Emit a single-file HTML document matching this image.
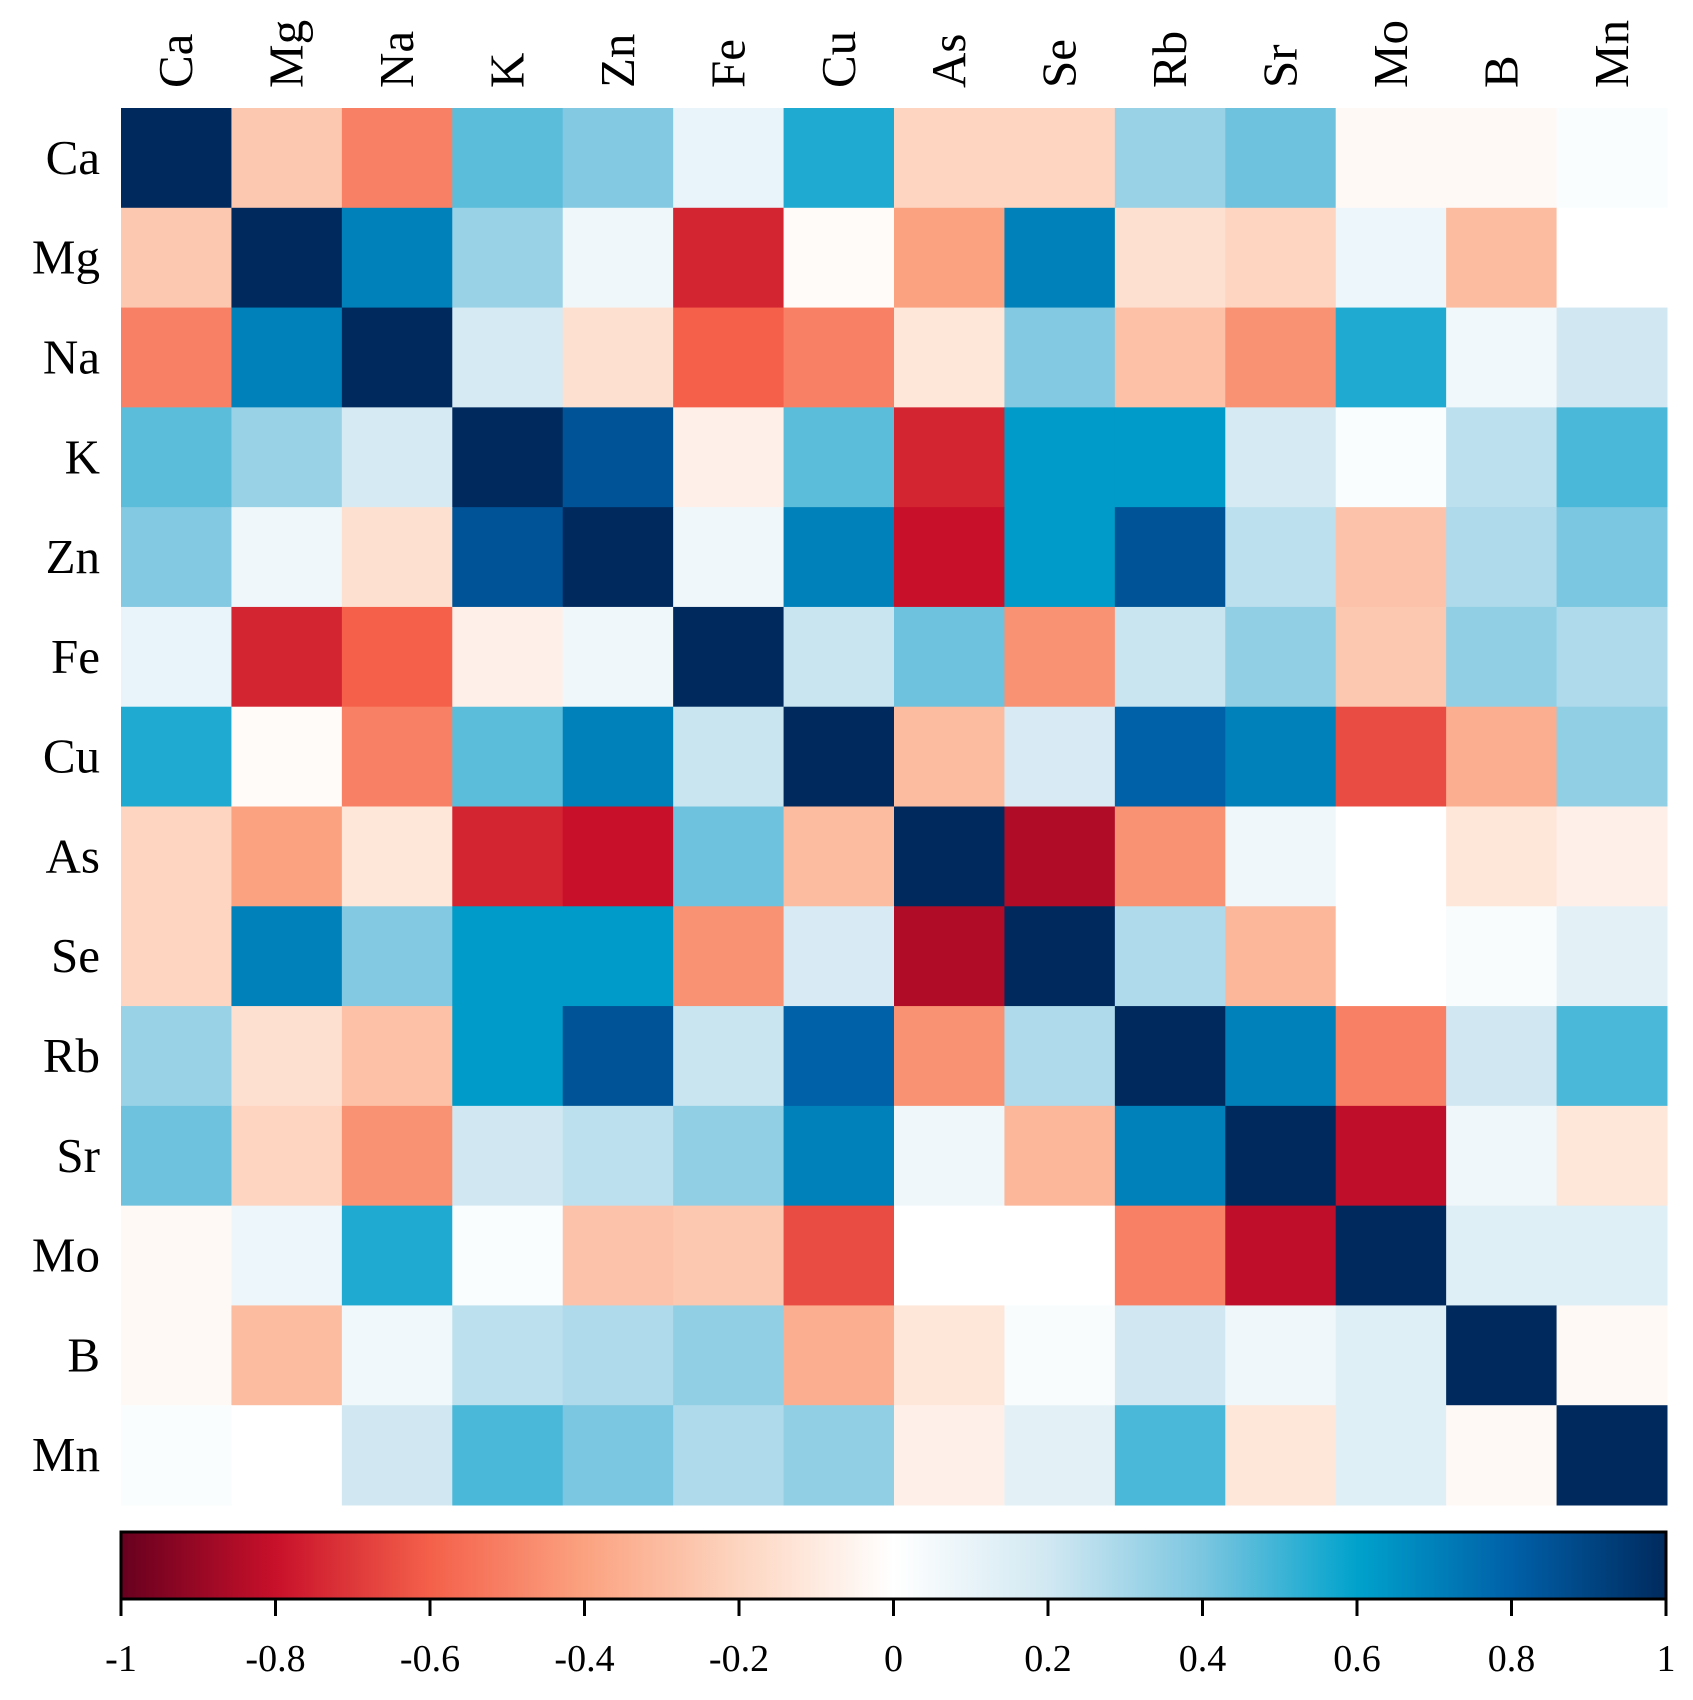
<!DOCTYPE html>
<html><head><meta charset="utf-8"><style>
body{margin:0;background:#fff;}
svg{display:block;font-family:"Liberation Serif",serif;}
</style></head><body>
<svg id="chart" width="1693" height="1700" viewBox="0 0 1693 1700" xmlns="http://www.w3.org/2000/svg">
<defs><linearGradient id="cbgrad" x1="0" x2="1" y1="0" y2="0"></linearGradient></defs>
<g id="cells"></g>
<g id="rowlabels"></g>
<g id="collabels"></g>
<g id="colorbar"></g>
</svg>
<script>
const categories = ["Ca","Mg","Na","K","Zn","Fe","Cu","As","Se","Rb","Sr","Mo","B","Mn"];
const rowCa = [1,-0.25,-0.5,0.45,0.38,0.1,0.55,-0.2,-0.2,0.33,0.42,-0.03,-0.03,0.02];
const rowMg = [-0.25,1,0.7,0.33,0.07,-0.75,-0.02,-0.4,0.7,-0.15,-0.2,0.08,-0.3,0.0];
const rowNa = [-0.5,0.7,1,0.18,-0.15,-0.6,-0.5,-0.12,0.38,-0.28,-0.45,0.55,0.06,0.2];
const rowK  = [0.45,0.33,0.18,1,0.85,-0.07,0.45,-0.75,0.62,0.62,0.18,0.02,0.25,0.48];
const rowZn = [0.38,0.07,-0.15,0.85,1,0.07,0.7,-0.8,0.62,0.85,0.25,-0.27,0.28,0.4];
const rowFe = [0.1,-0.75,-0.6,-0.07,0.07,1,0.22,0.42,-0.45,0.22,0.35,-0.25,0.35,0.28];
const rowCu = [0.55,-0.02,-0.5,0.45,0.7,0.22,1,-0.3,0.17,0.8,0.7,-0.65,-0.35,0.35];
const rowAs = [-0.2,-0.4,-0.12,-0.75,-0.8,0.42,-0.3,1,-0.85,-0.45,0.07,0.0,-0.12,-0.07];
const rowSe = [-0.2,0.7,0.38,0.62,0.62,-0.45,0.17,-0.85,1,0.28,-0.32,0.0,0.03,0.12];
const rowRb = [0.33,-0.15,-0.28,0.62,0.85,0.22,0.8,-0.45,0.28,1,0.7,-0.5,0.2,0.48];
const rowSr = [0.42,-0.2,-0.45,0.2,0.25,0.35,0.7,0.07,-0.32,0.7,1,-0.82,0.07,-0.12];
const rowMo = [-0.03,0.08,0.55,0.02,-0.27,-0.25,-0.65,0,0,-0.5,-0.82,1,0.14,0.14];
const rowB  = [-0.03,-0.3,0.06,0.25,0.28,0.35,-0.35,-0.12,0.03,0.2,0.07,0.14,1,-0.03];
const rowMn = [0.02,0,0.2,0.48,0.4,0.28,0.35,-0.07,0.12,0.48,-0.12,0.14,-0.03,1];
const matrix = [rowCa,rowMg,rowNa,rowK,rowZn,rowFe,rowCu,rowAs,rowSe,rowRb,rowSr,rowMo,rowB,rowMn];
const tickValues = [-1,-0.8,-0.6,-0.4,-0.2,0,0.2,0.4,0.6,0.8,1];
const tickLabels = ["-1","-0.8","-0.6","-0.4","-0.2","0","0.2","0.4","0.6","0.8","1"];

const NS="http://www.w3.org/2000/svg";
const L=121, T=108, R=1667, B=1505;
const cw=(R-L)/categories.length, ch=(B-T)/categories.length;
const xPos=i=>L+i*cw, yPos=i=>T+i*ch;
const cbL=121, cbR=1666, cbT=1532, cbB=1599;
const cbX=v=>cbL+(v+1)/2*(cbR-cbL);

const stops=[[-1,[103,0,31]],[-0.8,[200,16,42]],[-0.6,[244,96,74]],[-0.4,[251,162,128]],[-0.2,[253,213,192]],[0,[255,255,255]],[0.2,[209,232,242]],[0.4,[123,198,224]],[0.6,[0,162,204]],[0.8,[0,96,168]],[1,[0,42,94]]];
function color(v){
  v=Math.max(-1,Math.min(1,v));
  for(let i=0;i<stops.length-1;i++){
    const a=stops[i],b=stops[i+1];
    if(v<=b[0]){const t=(v-a[0])/(b[0]-a[0]);
      const c=a[1].map((x,k)=>Math.round(x+(b[1][k]-x)*t));
      return `rgb(${c[0]},${c[1]},${c[2]})`;}
  }
  return "rgb(0,42,94)";
}
function mk(tag,attrs,parent){const e=document.createElementNS(NS,tag);for(const k in attrs)e.setAttribute(k,attrs[k]);parent.appendChild(e);return e;}

const cells=document.getElementById('cells');
matrix.forEach((row,r)=>row.forEach((v,c)=>{
  const e=mk('rect',{x:xPos(c),y:yPos(r),width:cw+0.5,height:ch+0.5,fill:color(v)},cells);
  
  
}));
const rl=document.getElementById('rowlabels');
categories.forEach((n,i)=>{
  const e=mk('text',{x:100,y:yPos(i)+ch/2+16,'text-anchor':'end','font-size':49},rl);
  e.textContent=n;
  
  
});
const cl=document.getElementById('collabels');
categories.forEach((n,i)=>{
  const x=xPos(i)+cw/2+16;
  const e=mk('text',{x:x,y:88,transform:`rotate(-90 ${x} 88)`,'text-anchor':'start','font-size':49},cl);
  e.textContent=n;
  
  
});
const grad=document.getElementById('cbgrad');
stops.forEach(s=>mk('stop',{offset:((s[0]+1)/2*100)+'%','stop-color':`rgb(${s[1].join(',')})`},grad));
const cb=document.getElementById('colorbar');
const bar=mk('rect',{x:cbL,y:cbT,width:cbR-cbL,height:cbB-cbT,fill:'url(#cbgrad)',stroke:'#000','stroke-width':3},cb);


tickValues.forEach((v,i)=>{
  const x=cbX(v);
  const t=mk('line',{x1:x,x2:x,y1:cbB,y2:cbB+17,stroke:'#000','stroke-width':3},cb);
  
  
  const e=mk('text',{x:x,y:1671,'text-anchor':'middle','font-size':38},cb);
  e.textContent=tickLabels[i];
  
  
});
</script>
</body></html>
